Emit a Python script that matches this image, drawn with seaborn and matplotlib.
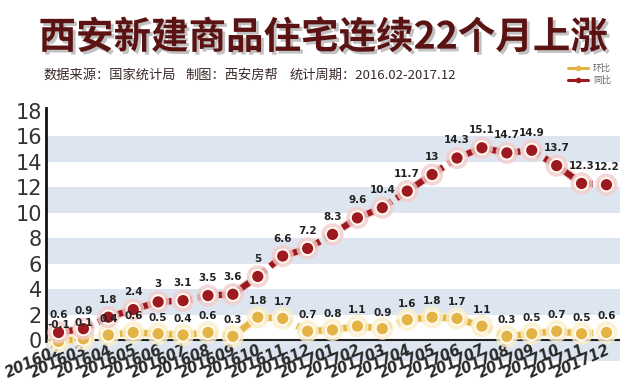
import matplotlib
matplotlib.use("Agg")
import matplotlib.pyplot as plt
import matplotlib.patheffects as pe
from matplotlib.lines import Line2D
import seaborn as sns
import pandas as pd

months = ["201602", "201603", "201604", "201605", "201606", "201607", "201608",
          "201609", "201610", "201611", "201612", "201701", "201702", "201703",
          "201704", "201705", "201706", "201707", "201708", "201709", "201710",
          "201711", "201712"]
yoy = [0.6, 0.9, 1.8, 2.4, 3, 3.1, 3.5, 3.6, 5, 6.6, 7.2, 8.3, 9.6, 10.4,
       11.7, 13, 14.3, 15.1, 14.7, 14.9, 13.7, 12.3, 12.2]
mom = [-0.1, 0.1, 0.4, 0.6, 0.5, 0.4, 0.6, 0.3, 1.8, 1.7, 0.7, 0.8, 1.1, 0.9,
       1.6, 1.8, 1.7, 1.1, 0.3, 0.5, 0.7, 0.5, 0.6]
yticks = [0, 2, 4, 6, 8, 10, 12, 14, 16, 18]
series_names = ["环比", "同比"]

sns.set_theme(style="white")
plt.rcParams['font.family'] = ['Noto Sans CJK SC', 'DejaVu Sans']

n = len(months)
df = pd.DataFrame({
    "idx": list(range(n)) * 2,
    "value": mom + yoy,
    "series": [series_names[0]] * n + [series_names[1]] * n,
})

RED = "#9c1a1f"
YEL = "#e3b445"

fig = plt.figure(figsize=(6.4, 3.91), dpi=100)
ax = fig.add_axes([0.072, 0.078, 0.897, 0.645])

ylo, yhi = -1.6, 18.2
for b in [-2, 2, 6, 10, 14]:
    ax.axhspan(b, b + 2, color="#dde6f0", zorder=0, lw=0)

sns.lineplot(data=df, x="idx", y="value", hue="series",
             palette={series_names[0]: YEL, series_names[1]: RED},
             ax=ax, legend=False, lw=4.5, marker="o", markersize=9.5,
             markeredgecolor="#fffaf0", markeredgewidth=1.4, zorder=3)
glow = {YEL: "#fbefc8", RED: "#f2cccc"}
for ln in ax.lines:
    ln.set_linestyle((0, (2.4, 0.9)))
    c = ln.get_color()
    ln.set_path_effects([pe.Stroke(linewidth=6.5, foreground=glow.get(c, "white"), alpha=0.8),
                         pe.Normal()])

ax.axhline(0, color="#222222", lw=1.5, zorder=2)

for i in range(n):
    ax.annotate(f"{yoy[i]:g}", (i, yoy[i]), xytext=(0, 9), textcoords="offset points",
                ha="center", va="bottom", fontsize=7.5, fontweight="bold",
                color="#222222", family="DejaVu Sans", zorder=5)
    ax.annotate(f"{mom[i]:g}", (i, mom[i]), xytext=(0, 8), textcoords="offset points",
                ha="center", va="bottom", fontsize=7.5, fontweight="bold",
                color="#222222", family="DejaVu Sans", zorder=5)

ax.set_xlim(-0.5, n - 0.45)
ax.set_ylim(ylo, yhi)
ax.set_yticks(yticks)
ax.set_yticklabels([str(t) for t in yticks], fontsize=15, color="#333333",
                   family="DejaVu Sans")
ax.set_xticks(range(n))
ax.set_xticklabels(months, rotation=24, ha="right", rotation_mode="anchor",
                   fontsize=10.5, fontweight="bold", fontstyle="italic",
                   color="#2a2a2a", family="DejaVu Sans")
ax.tick_params(axis="x", length=0, pad=-13)
ax.tick_params(axis="y", length=0, pad=3)
ax.set_xlabel("")
ax.set_ylabel("")
for s in ["top", "right", "bottom"]:
    ax.spines[s].set_visible(False)
ax.spines["left"].set_color("#111111")
ax.spines["left"].set_linewidth(2)
ax.spines["left"].set_bounds(-0.1, yhi)

fig.text(0.505, 0.905, "西安新建商品住宅连续22个月上涨", ha="center", va="center",
         fontsize=27, fontweight="bold", color="#5a1212",
         path_effects=[pe.withSimplePatchShadow(offset=(2, -2), shadow_rgbFace="#999999", alpha=0.6)])
sub_kw = dict(ha="left", va="center", fontsize=9.5, color="#3a2828", fontweight="medium")
fig.text(0.068, 0.808, "数据来源：国家统计局", **sub_kw)
fig.text(0.29, 0.808, "制图：西安房帮", **sub_kw)
fig.text(0.452, 0.808, "统计周期：2016.02-2017.12", **sub_kw)

handles = [Line2D([], [], color=YEL, lw=2.2, marker="o", markersize=3),
           Line2D([], [], color=RED, lw=2.2, marker="o", markersize=3)]
fig.legend(handles, series_names, loc="center left", bbox_to_anchor=(0.88, 0.81),
           frameon=False, fontsize=6.5, labelcolor="#666666", handlelength=2.2,
           handletextpad=0.6, labelspacing=0.35, borderpad=0)

fig.savefig("out.png", dpi=100, facecolor="white")
